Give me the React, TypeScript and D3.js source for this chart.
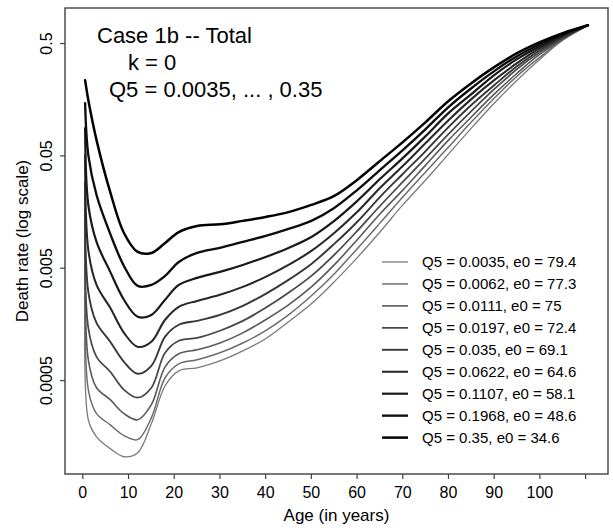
import React from "react";
import * as d3 from "d3";

// ---- data ----
const ages = [0.5, 1.2, 3, 6, 9, 12, 15, 18, 21, 25, 30, 35, 40, 45, 50, 55, 60, 65, 70, 75, 80, 85, 90, 95, 100, 105, 110.5];

const rateQ0035 = [0.00278, 0.000224, 0.000158, 0.000124, 0.000105, 0.000114, 0.000207, 0.00045, 0.000611, 0.00065, 0.00075, 0.00092, 0.00118, 0.00167, 0.00241, 0.00378, 0.00618, 0.0105, 0.0183, 0.0305, 0.0519, 0.0883, 0.147, 0.236, 0.363, 0.535, 0.727];
const rateQ0062 = [0.00514, 0.000414, 0.000254, 0.000202, 0.000162, 0.000149, 0.000234, 0.00053, 0.000705, 0.000766, 0.000884, 0.00108, 0.00139, 0.00192, 0.00284, 0.00445, 0.00743, 0.0126, 0.0215, 0.0359, 0.0599, 0.0999, 0.163, 0.256, 0.378, 0.541, 0.727];
const rateQ0111 = [0.0093, 0.000766, 0.000432, 0.000338, 0.000254, 0.000224, 0.000305, 0.000663, 0.000866, 0.00094, 0.00108, 0.00133, 0.00174, 0.00236, 0.00341, 0.00535, 0.00893, 0.0152, 0.0248, 0.0414, 0.0691, 0.111, 0.177, 0.272, 0.402, 0.546, 0.727];
const rateQ0197 = [0.0165, 0.00147, 0.000814, 0.000599, 0.000414, 0.000352, 0.000432, 0.000884, 0.00113, 0.0012, 0.00139, 0.0017, 0.00222, 0.00302, 0.00427, 0.00657, 0.0107, 0.0179, 0.0293, 0.0478, 0.0781, 0.125, 0.196, 0.296, 0.419, 0.557, 0.727];
const rateQ035 = [0.0293, 0.00308, 0.00163, 0.00111, 0.000735, 0.000575, 0.000677, 0.00123, 0.00157, 0.0017, 0.00192, 0.00231, 0.00296, 0.00394, 0.00546, 0.00823, 0.0129, 0.0215, 0.0345, 0.0552, 0.0902, 0.142, 0.213, 0.314, 0.436, 0.569, 0.727];
const rateQ0622 = [0.0508, 0.00727, 0.00355, 0.00222, 0.00133, 0.000999, 0.00111, 0.00174, 0.00227, 0.00256, 0.0029, 0.00341, 0.00419, 0.00535, 0.00713, 0.0103, 0.0158, 0.0259, 0.0406, 0.065, 0.104, 0.16, 0.236, 0.334, 0.454, 0.581, 0.727];
const rateQ1107 = [0.0883, 0.0183, 0.00857, 0.00464, 0.00262, 0.00185, 0.00192, 0.00262, 0.00355, 0.0041, 0.00464, 0.00535, 0.0063, 0.00758, 0.00949, 0.0132, 0.0198, 0.0311, 0.0478, 0.075, 0.12, 0.177, 0.262, 0.363, 0.473, 0.593, 0.727];
const rateQ1968 = [0.147, 0.0508, 0.0224, 0.0101, 0.00524, 0.00348, 0.00355, 0.00427, 0.00569, 0.00684, 0.00758, 0.00857, 0.00969, 0.0112, 0.0132, 0.0172, 0.0248, 0.0374, 0.0563, 0.0866, 0.136, 0.2, 0.284, 0.386, 0.493, 0.605, 0.727];
const rateQ35 = [0.236, 0.157, 0.0691, 0.0238, 0.0103, 0.00698, 0.00684, 0.00839, 0.0105, 0.0119, 0.0123, 0.0132, 0.0143, 0.0158, 0.0183, 0.022, 0.0305, 0.045, 0.0663, 0.0999, 0.154, 0.222, 0.308, 0.41, 0.514, 0.618, 0.727];

const seriesLabels = [
  "Q5 = 0.0035, e0 = 79.4",
  "Q5 = 0.0062, e0 = 77.3",
  "Q5 = 0.0111, e0 = 75",
  "Q5 = 0.0197, e0 = 72.4",
  "Q5 = 0.035, e0 = 69.1",
  "Q5 = 0.0622, e0 = 64.6",
  "Q5 = 0.1107, e0 = 58.1",
  "Q5 = 0.1968, e0 = 48.6",
  "Q5 = 0.35, e0 = 34.6",
];
const seriesValues = [rateQ0035, rateQ0062, rateQ0111, rateQ0197, rateQ035, rateQ0622, rateQ1107, rateQ1968, rateQ35];

const xTicks = [0, 10, 20, 30, 40, 50, 60, 70, 80, 90, 100, 110];
const xTickLabels = ["0", "10", "20", "30", "40", "50", "60", "70", "80", "90", "100", ""];
const yTicks = [0.5, 0.05, 0.005, 0.0005];
const yTickLabels = ["0.5", "0.05", "0.005", "0.0005"];
const titleLines = ["Case 1b -- Total", "k = 0", "Q5 = 0.0035, ... , 0.35"];

// ---- styles ----
const seriesColors = ["#7a7a7a", "#6a6a6a", "#595959", "#484848", "#373737", "#272727", "#181818", "#0c0c0c", "#000000"];
const seriesWidths = [1.3, 1.45, 1.6, 1.75, 1.9, 2.05, 2.2, 2.35, 2.5];

const W = 613;
const H = 531;
const box = { left: 65, right: 608, top: 8, bottom: 474 };
const FONT = "'Liberation Sans', Arial, Helvetica, sans-serif";

export default function App() {
  // R-style 4% extension of the data range
  const xMin = d3.min(ages) as number;
  const xMax = d3.max(ages) as number;
  const xPad = (xMax - xMin) * 0.04;
  const x = d3.scaleLinear().domain([xMin - xPad, xMax + xPad]).range([box.left, box.right]);

  const all = seriesValues.flat();
  const lMin = Math.log10(d3.min(all) as number);
  const lMax = Math.log10(d3.max(all) as number);
  const lPad = (lMax - lMin) * 0.04;
  const y = d3.scaleLog().domain([Math.pow(10, lMin - lPad), Math.pow(10, lMax + lPad)]).range([box.bottom, box.top]);

  const line = d3
    .line<number>()
    .x((_, i) => x(ages[i]))
    .y((d) => y(d))
    .curve(d3.curveCatmullRom.alpha(0.5));

  const legendX = 382;
  const legendY0 = 262;
  const legendDy = 21.95;

  return (
    <svg
      width={W}
      height={H}
      style={{ position: "fixed", left: 0, top: 0, background: "#fff" }}
      fontFamily={FONT}
    >
      <rect x={0} y={0} width={W} height={H} fill="#fff" />
      <defs>
        <clipPath id="plotClip">
          <rect x={box.left} y={box.top} width={box.right - box.left} height={box.bottom - box.top} />
        </clipPath>
      </defs>

      {/* curves */}
      <g clipPath="url(#plotClip)">
        {seriesValues.map((vals, i) => (
          <path
            key={i}
            d={line(vals) || ""}
            fill="none"
            stroke={seriesColors[i]}
            strokeWidth={seriesWidths[i]}
            strokeLinejoin="round"
            strokeLinecap="round"
          />
        ))}
      </g>

      {/* frame */}
      <rect
        x={box.left}
        y={box.top}
        width={box.right - box.left}
        height={box.bottom - box.top}
        fill="none"
        stroke="#404040"
        strokeWidth={1.4}
      />

      {/* x axis */}
      <g>
        {xTicks.map((t, i) => (
          <g key={t}>
            <line x1={x(t)} x2={x(t)} y1={box.bottom} y2={box.bottom + 5} stroke="#404040" strokeWidth={1.2} />
            <text x={x(t)} y={497.5} fontSize={16} textAnchor="middle" fill="#000">
              {xTickLabels[i]}
            </text>
          </g>
        ))}
        <text x={(box.left + box.right) / 2} y={521} fontSize={17} textAnchor="middle" fill="#000">
          Age (in years)
        </text>
      </g>

      {/* y axis */}
      <g>
        {yTicks.map((t, i) => (
          <g key={t}>
            <line x1={box.left - 5} x2={box.left} y1={y(t)} y2={y(t)} stroke="#404040" strokeWidth={1.2} />
            <text
              transform={`translate(51.5,${y(t)}) rotate(-90)`}
              fontSize={16}
              textAnchor="middle"
              fill="#000"
            >
              {yTickLabels[i]}
            </text>
          </g>
        ))}
        <text
          transform={`translate(28,${(box.top + box.bottom) / 2}) rotate(-90)`}
          fontSize={17}
          textAnchor="middle"
          fill="#000"
        >
          Death rate (log scale)
        </text>
      </g>

      {/* in-plot title */}
      <text x={97} y={43} fontSize={22} fill="#000">{titleLines[0]}</text>
      <text x={128} y={70} fontSize={22} fill="#000">{titleLines[1]}</text>
      <text x={109} y={97} fontSize={22} fill="#000">{titleLines[2]}</text>

      {/* legend */}
      <g>
        {seriesLabels.map((lab, i) => (
          <g key={lab}>
            <line
              x1={legendX}
              x2={legendX + 26}
              y1={legendY0 + i * legendDy}
              y2={legendY0 + i * legendDy}
              stroke={seriesColors[i]}
              strokeWidth={seriesWidths[i]}
            />
            <text x={422} y={legendY0 + i * legendDy + 5.3} fontSize={15} fill="#000">
              {lab}
            </text>
          </g>
        ))}
      </g>
    </svg>
  );
}
